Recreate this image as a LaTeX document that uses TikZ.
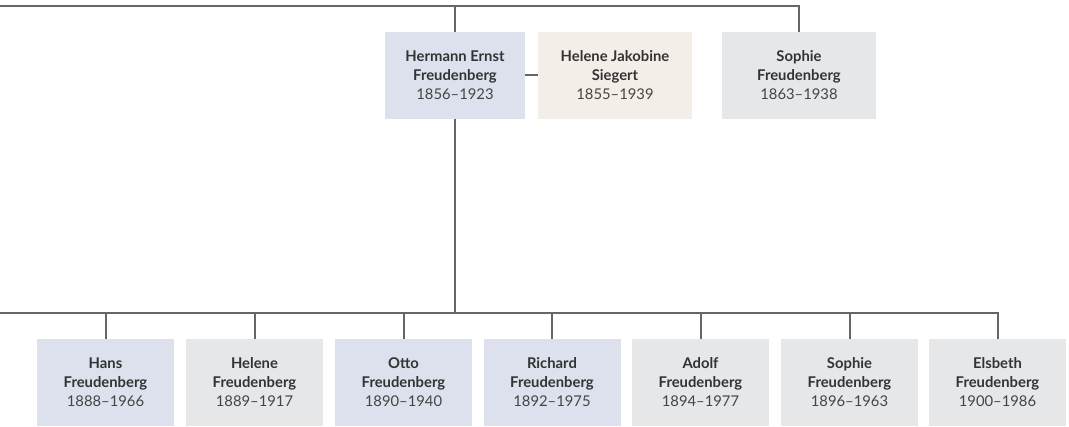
\documentclass[tikz,border=0pt]{standalone}
\usepackage{fontspec}
\setmainfont{Lato}
\definecolor{blu}{HTML}{DCE1ED}
\definecolor{beige}{HTML}{F4EEE8}
\definecolor{gry}{HTML}{E6E7E9}
\definecolor{ln}{HTML}{666666}
\definecolor{txt}{HTML}{333333}
\definecolor{yrc}{HTML}{444444}
\begin{document}
\begin{tikzpicture}[x=1pt,y=-1pt,
  pbox/.style={minimum height=87pt, inner sep=0pt, align=center, text=txt,
    font=\fontsize{14.8}{19}\selectfont},
  kbox/.style={pbox, minimum width=137pt},
  conn/.style={draw=ln, line width=2pt}]
\useasboundingbox (0,0) rectangle (1069,427);
% top generation
\node[pbox, fill=blu, minimum width=140pt] (hermann) at (455,75.5) {\textbf{Hermann Ernst}\\\textbf{Freudenberg}\\\textcolor{yrc}{1856–1923}};
\node[pbox, fill=beige, minimum width=154pt] (helene) at (615,75.5) {\textbf{Helene Jakobine}\\\textbf{Siegert}\\\textcolor{yrc}{1855–1939}};
\node[pbox, fill=gry, minimum width=154pt] (sophie) at (799,75.5) {\textbf{Sophie}\\\textbf{Freudenberg}\\\textcolor{yrc}{1863–1938}};
% children
\node[kbox, fill=blu] (hans) at (105.5,382.5) {\textbf{Hans}\\\textbf{Freudenberg}\\\textcolor{yrc}{1888–1966}};
\node[kbox, fill=gry] (helenec) at (254.5,382.5) {\textbf{Helene}\\\textbf{Freudenberg}\\\textcolor{yrc}{1889–1917}};
\node[kbox, fill=blu] (otto) at (403.5,382.5) {\textbf{Otto}\\\textbf{Freudenberg}\\\textcolor{yrc}{1890–1940}};
\node[kbox, fill=blu] (richard) at (552,382.5) {\textbf{Richard}\\\textbf{Freudenberg}\\\textcolor{yrc}{1892–1975}};
\node[kbox, fill=gry] (adolf) at (700.5,382.5) {\textbf{Adolf}\\\textbf{Freudenberg}\\\textcolor{yrc}{1894–1977}};
\node[kbox, fill=gry] (sophiec) at (849.5,382.5) {\textbf{Sophie}\\\textbf{Freudenberg}\\\textcolor{yrc}{1896–1963}};
\node[kbox, fill=gry] (elsbeth) at (997.5,382.5) {\textbf{Elsbeth}\\\textbf{Freudenberg}\\\textcolor{yrc}{1900–1986}};
% connectors
\coordinate (topL) at (0,6);
\coordinate (kidL) at (0,313);
\draw[conn] (topL) -| (sophie.north);
\draw[conn] (hermann.north) -- (hermann.north |- topL);
\draw[conn] (hermann.east) -- (helene.west);
\draw[conn] (hermann.south) -- (hermann.south |- kidL);
\draw[conn] (kidL) -| (elsbeth.north);
\foreach \c in {hans,helenec,otto,richard,adolf,sophiec}
  \draw[conn] (\c.north) -- (\c.north |- kidL);
\end{tikzpicture}
\end{document}
